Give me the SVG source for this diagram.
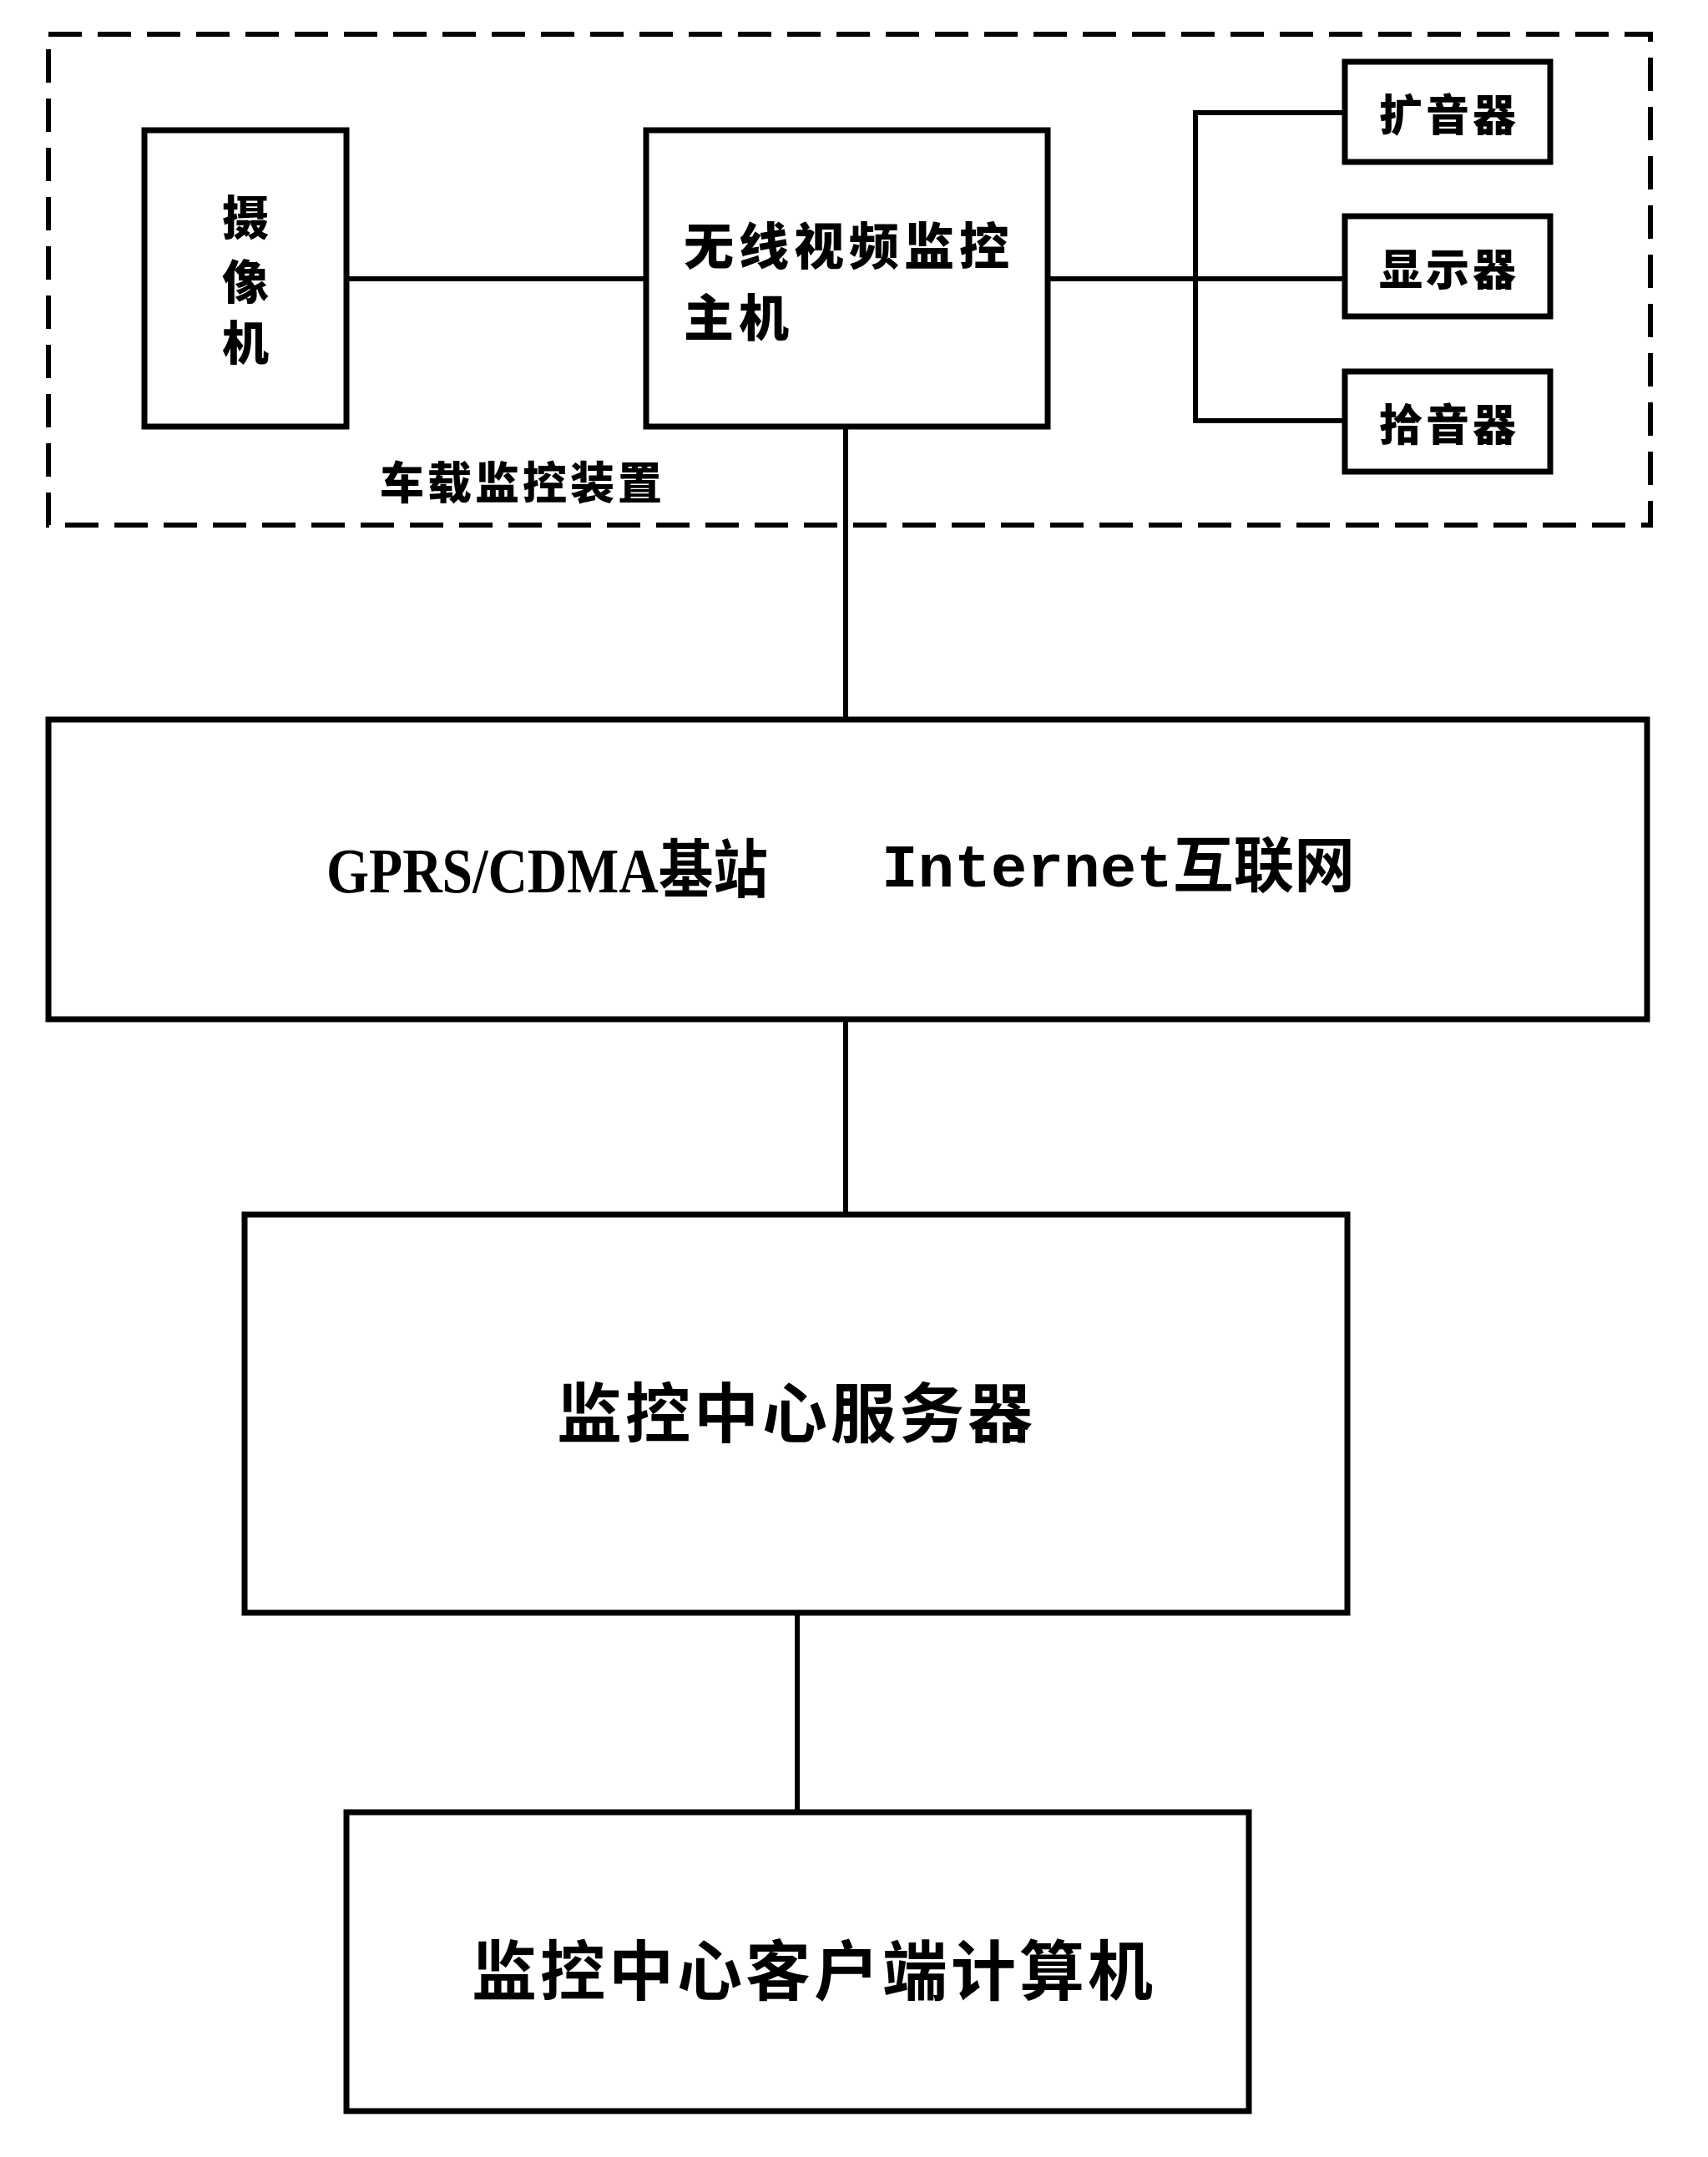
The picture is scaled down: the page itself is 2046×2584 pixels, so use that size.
<svg xmlns="http://www.w3.org/2000/svg" width="2046" height="2584" viewBox="0 0 2046 2584">
<style>
.box{fill:none;stroke:#000;stroke-width:7}
.dash{fill:none;stroke:#000;stroke-width:6;stroke-dasharray:40 19}
.ln{fill:none;stroke:#000;stroke-width:6}
.b{font-family:"Noto Sans CJK SC",sans-serif;font-weight:900;fill:#000}
.r{font-family:"Noto Sans CJK SC",sans-serif;font-weight:700;fill:#000}
</style>
<rect width="2046" height="2584" fill="#fff"/>
<g id="vehicle-group">
<rect class="dash" x="58" y="41" width="1919" height="588"/>
<text class="b" x="626" y="575" font-size="53" letter-spacing="4" text-anchor="middle" dominant-baseline="central">车载监控装置</text>
</g>
<g id="connectors">
<line class="ln" x1="415" y1="334" x2="774" y2="334"/>
<line class="ln" x1="1255" y1="334" x2="1611" y2="334"/>
<polyline class="ln" points="1611,135 1432,135 1432,504 1611,504"/>
<line class="ln" x1="1013" y1="511" x2="1013" y2="862"/>
<line class="ln" x1="1013" y1="1221" x2="1013" y2="1455"/>
<line class="ln" x1="955" y1="1932" x2="955" y2="2171"/>
</g>
<g id="camera">
<rect class="box" x="173" y="156" width="242" height="355"/>
<text class="b" font-size="56" text-anchor="middle" dominant-baseline="central"><tspan x="294" y="256">摄</tspan><tspan x="294" y="333">像</tspan><tspan x="294" y="406">机</tspan></text>
</g>
<g id="host">
<rect class="box" x="774" y="156" width="481" height="355"/>
<text class="b" font-size="60" letter-spacing="6" dominant-baseline="central"><tspan x="819" y="290">无线视频监控</tspan><tspan x="819" y="376">主机</tspan></text>
</g>
<g id="speaker">
<rect class="box" x="1611" y="74" width="246" height="120"/>
<text class="b" x="1736" y="134" font-size="52" letter-spacing="4" text-anchor="middle" dominant-baseline="central">扩音器</text>
</g>
<g id="display">
<rect class="box" x="1611" y="259" width="246" height="120"/>
<text class="b" x="1736" y="319" font-size="52" letter-spacing="4" text-anchor="middle" dominant-baseline="central">显示器</text>
</g>
<g id="microphone">
<rect class="box" x="1611" y="445" width="246" height="120"/>
<text class="b" x="1736" y="505" font-size="52" letter-spacing="4" text-anchor="middle" dominant-baseline="central">拾音器</text>
</g>
<g id="network">
<rect class="box" x="58" y="862" width="1915" height="359"/>
<text x="391" y="1043" font-family="Liberation Serif, Noto Sans CJK SC, serif" font-weight="bold" font-size="76" textLength="529" lengthAdjust="spacingAndGlyphs" dominant-baseline="central">GPRS/CDMA基站</text>
<text x="1056" y="1043" font-family="Liberation Mono, Noto Sans CJK SC, monospace" font-weight="bold" font-size="72" textLength="567" lengthAdjust="spacingAndGlyphs" dominant-baseline="central">Internet互联网</text>
</g>
<g id="server">
<rect class="box" x="293" y="1455" width="1321" height="477"/>
<text class="r" x="954" y="1688" font-size="78" letter-spacing="4" text-anchor="middle" dominant-baseline="central">监控中心服务器</text>
</g>
<g id="client">
<rect class="box" x="415" y="2171" width="1081" height="358"/>
<text class="r" x="975" y="2356" font-size="78" letter-spacing="4" text-anchor="middle" dominant-baseline="central">监控中心客户端计算机</text>
</g>
</svg>
